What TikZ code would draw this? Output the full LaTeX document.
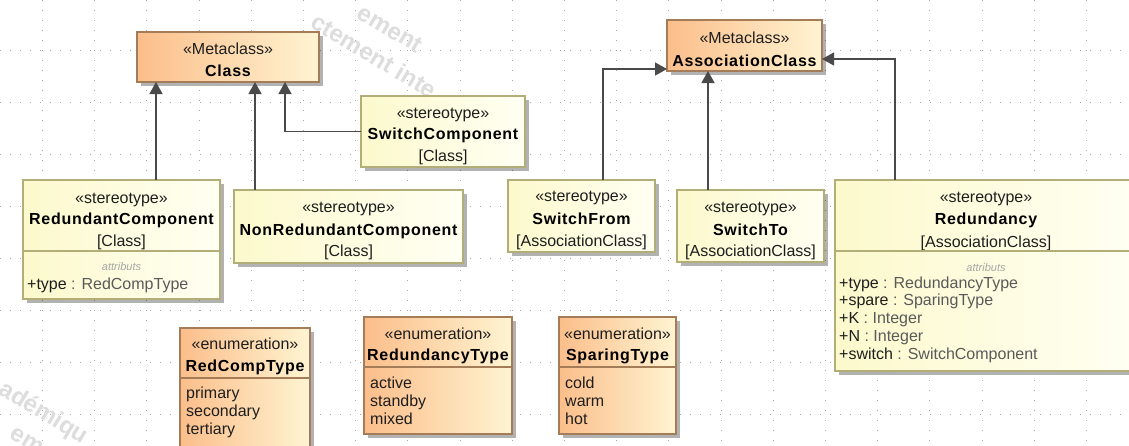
\documentclass[tikz,border=0pt]{standalone}
\usepackage{fontspec}
\setmainfont{Liberation Sans}
\newfontfamily\nmfont{Liberation Sans}[LetterSpace=4.5]
\usetikzlibrary{arrows.meta,shadows}
\definecolor{yel1}{HTML}{FCF9CC}
\definecolor{yel2}{HTML}{FFFFF3}
\definecolor{yelb}{HTML}{B3AD78}
\definecolor{or1}{HTML}{FBBE8A}
\definecolor{or2}{HTML}{FFF4D2}
\definecolor{orb}{HTML}{A57C58}
\definecolor{lin}{HTML}{4A4A4A}
\definecolor{txt}{HTML}{1E1E1E}
\definecolor{typ}{HTML}{5A5A5A}
\definecolor{grd}{HTML}{A8A8A8}
\definecolor{wm}{HTML}{DDDDDD}
\tikzset{
  boxbase/.style={anchor=north west, inner sep=0pt, outer sep=0pt, line width=1.3pt,
    drop shadow={shadow xshift=3.5pt, shadow yshift=-3.5pt, opacity=0.3, fill=black}},
  ybox/.style={boxbase, draw=yelb, left color=yel1, right color=yel2},
  obox/.style={boxbase, draw=orb, left color=or1, right color=or2},
  ydiv/.style={draw=yelb, line width=1.3pt},
  odiv/.style={draw=orb, line width=1.3pt},
  hd/.style={anchor=base, inner sep=0pt, font=\fontsize{16}{18}\selectfont, text=txt},
  nm/.style={anchor=base, inner sep=0pt, font=\fontsize{16}{18}\selectfont\nmfont\bfseries, text=black},
  atr/.style={anchor=base west, inner sep=0pt, font=\fontsize{16}{18}\selectfont, text=txt},
  sm/.style={anchor=base, inner sep=0pt, font=\fontsize{11}{12}\selectfont\itshape, text=gray!70},
  gen/.style={draw=lin, line width=1.3pt, -{Triangle[width=13pt,length=12pt]}},
  wmark/.style={inner sep=0pt, rotate=-31, align=center, font=\fontsize{24}{32}\selectfont\bfseries, text=wm},
  gridl/.style={draw=grd, line width=0.9pt, dash pattern=on 0.9pt off 9.1pt}
}
\begin{document}
\begin{tikzpicture}[x=1pt,y=-1pt]
\useasboundingbox (0,0) rectangle (1129,445);
\clip (0,0) rectangle (1129,445);
\fill[white] (0,0) rectangle (1129,445);
% grid
\foreach \k in {0,...,20} \draw[gridl] (42.5+52.2*\k,0) -- (42.5+52.2*\k,445);
\foreach \k in {0,...,7} \draw[gridl] (0,50+52*\k) -- (1129,50+52*\k);
% watermark fragments
\node[wmark] (wmtop) at (382,42.5) {ement\\ctement inte};
\node[wmark] (wmbot) at (36.5,425) {adémiqu\\em};

% metaclasses
\node[obox, minimum width=182pt, minimum height=50pt] (Class) at (137,32) {};
\node[hd] (cl1) at (228,54) {«Metaclass»};
\node[nm] (cl2) at (228,76) {Class};

\node[obox, minimum width=155pt, minimum height=51pt] (AC) at (667,20) {};
\node[hd] (ac1) at (744.5,43) {«Metaclass»};
\node[nm] (ac2) at (744.5,66) {AssociationClass};

% stereotypes
\node[ybox, minimum width=164pt, minimum height=71pt] (SC) at (361,96) {};
\node[hd] (sc1) at (443,118) {«stereotype»};
\node[nm] (sc2) at (443,139) {SwitchComponent};
\node[hd] (sc3) at (443,161) {[Class]};

\node[ybox, minimum width=197pt, minimum height=119pt] (RC) at (23,180) {};
\node[hd] (rc1) at (121.5,203) {«stereotype»};
\node[nm] (rc2) at (121.5,224) {RedundantComponent};
\node[hd] (rc3) at (121.5,246) {[Class]};
\draw[ydiv] ([yshift=-71pt]RC.north west) -- ([yshift=-71pt]RC.north east);
\node[sm] (rc4) at (121.5,270) {attributs};
\node[atr] (rc5) at (27,289) {+type \textcolor{typ}{: RedCompType}};

\node[ybox, minimum width=229pt, minimum height=73pt] (NRC) at (234,190) {};
\node[hd] (nr1) at (348.5,212) {«stereotype»};
\node[nm] (nr2) at (348.5,235) {NonRedundantComponent};
\node[hd] (nr3) at (348.5,256) {[Class]};

\node[ybox, minimum width=147pt, minimum height=72pt] (SF) at (508,180) {};
\node[hd] (sf1) at (581.5,201) {«stereotype»};
\node[nm] (sf2) at (581.5,224) {SwitchFrom};
\node[hd] (sf3) at (581.5,246) {[AssociationClass]};

\node[ybox, minimum width=147pt, minimum height=72pt] (ST) at (677,190) {};
\node[hd] (st1) at (750.5,212) {«stereotype»};
\node[nm] (st2) at (750.5,235) {SwitchTo};
\node[hd] (st3) at (750.5,256) {[AssociationClass]};

\node[ybox, minimum width=302pt, minimum height=191pt] (RED) at (835,180) {};
\node[hd] (re1) at (986,202) {«stereotype»};
\node[nm] (re2) at (986,224) {Redundancy};
\node[hd] (re3) at (986,247) {[AssociationClass]};
\draw[ydiv] ([yshift=-71pt]RED.north west) -- ([yshift=-71pt]RED.north east);
\node[sm] (re4) at (986,271) {attributs};
\node[atr] (re5) at (839,288) {+type \textcolor{typ}{: RedundancyType}};
\node[atr] (re6) at (839,305.8) {+spare \textcolor{typ}{: SparingType}};
\node[atr] (re7) at (839,323.6) {+K \textcolor{typ}{: Integer}};
\node[atr] (re8) at (839,341.4) {+N \textcolor{typ}{: Integer}};
\node[atr] (re9) at (839,359.2) {+switch \textcolor{typ}{: SwitchComponent}};

% enumerations
\node[obox, minimum width=130pt, minimum height=140pt] (RCT) at (180,328) {};
\node[hd] (e11) at (245,349) {«enumeration»};
\node[nm] (e12) at (245,371) {RedCompType};
\draw[odiv] ([yshift=-50pt]RCT.north west) -- ([yshift=-50pt]RCT.north east);
\node[atr] (e13) at (186,398) {primary};
\node[atr] (e14) at (186,416) {secondary};
\node[atr] (e15) at (186,434) {tertiary};

\node[obox, minimum width=148pt, minimum height=117pt] (RT) at (364,317) {};
\node[hd] (e21) at (438,339) {«enumeration»};
\node[nm] (e22) at (438,360) {RedundancyType};
\draw[odiv] ([yshift=-50pt]RT.north west) -- ([yshift=-50pt]RT.north east);
\node[atr] (e23) at (370,388) {active};
\node[atr] (e24) at (370,406) {standby};
\node[atr] (e25) at (370,424) {mixed};

\node[obox, minimum width=117pt, minimum height=117pt] (SPT) at (559,317) {};
\node[hd] (e31) at (617.5,339) {«enumeration»};
\node[nm] (e32) at (617.5,360) {SparingType};
\draw[odiv] ([yshift=-50pt]SPT.north west) -- ([yshift=-50pt]SPT.north east);
\node[atr] (e33) at (565,388) {cold};
\node[atr] (e34) at (565,406) {warm};
\node[atr] (e35) at (565,424) {hot};

% connectors
\coordinate (xrc) at (156,0);
\coordinate (xnr) at (255,0);
\coordinate (xsc) at (285,0);
\coordinate (xsf) at (603,0);
\coordinate (xst) at (708,0);
\coordinate (xre) at (895,0);
\coordinate (ysf) at (0,69);
\coordinate (yre) at (0,59);
\draw[gen] (xrc |- RC.north) -- (xrc |- Class.south);
\draw[gen] (xnr |- NRC.north) -- (xnr |- Class.south);
\draw[gen] (SC.west) -| (xsc |- Class.south);
\draw[gen] (xsf |- SF.north) -- (xsf |- ysf) -- (AC.west |- ysf);
\draw[gen] (xst |- ST.north) -- (xst |- AC.south);
\draw[gen] (xre |- RED.north) -- (xre |- yre) -- (AC.east |- yre);
\end{tikzpicture}
\end{document}
